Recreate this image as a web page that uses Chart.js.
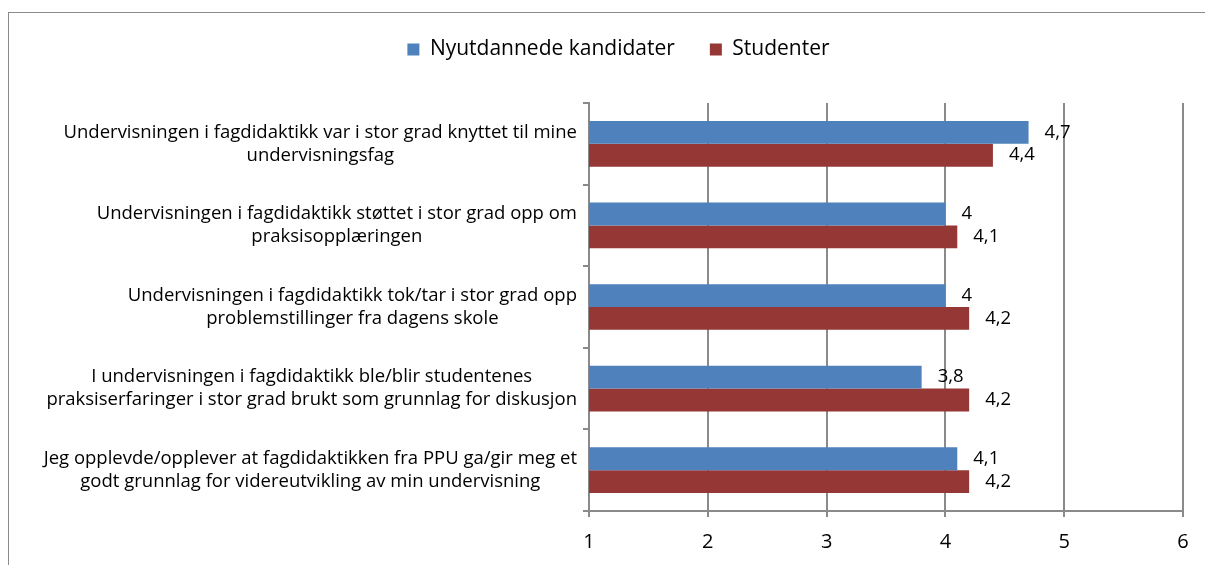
<!DOCTYPE html>
<html lang="no">
<head>
<meta charset="UTF-8">
<title>Fagdidaktikk – nyutdannede og studenter</title>
<script src="https://cdn.jsdelivr.net/npm/chart.js"></script>
<style>
  * { margin: 0; padding: 0; box-sizing: border-box; }
  body { background: #fff; width: 1205px; height: 565px; overflow: hidden; position: relative; }
  .ramme { position: absolute; left: 8px; top: 12px; width: 1240px; height: 600px; border: 1px solid #8a8a8a; }
  canvas { position: absolute; left: 0; top: 0; }
</style>
</head>
<body>
<div class="ramme"></div>
<canvas id="diagram" width="1205" height="565"></canvas>
<script>
const kategorier = [
  ['Undervisningen i fagdidaktikk var i stor grad knyttet til mine', 'undervisningsfag'],
  ['Undervisningen i fagdidaktikk støttet i stor grad opp om', 'praksisopplæringen'],
  ['Undervisningen i fagdidaktikk tok/tar i stor grad opp', 'problemstillinger fra dagens skole'],
  ['I undervisningen i fagdidaktikk ble/blir studentenes', 'praksiserfaringer i stor grad brukt som grunnlag for diskusjon'],
  ['Jeg opplevde/opplever at fagdidaktikken fra PPU ga/gir meg et', 'godt grunnlag for videreutvikling av min undervisning']
];
const serier = ['Nyutdannede kandidater', 'Studenter'];
const nyutdannede = [4.7, 4, 4, 3.8, 4.1];
const studenter = [4.4, 4.1, 4.2, 4.2, 4.2];
const skala = [1, 2, 3, 4, 5, 6];

const FONT = '"Open Sans", sans-serif';
const GRAA = '#8a8a8a';
const VENSTRE = 54;

// kategoritekster: hver etikett høyrejustert som blokk, linjene sentrert
const kategoriTekst = {
  id: 'kategoriTekst',
  afterDraw(chart) {
    const ctx = chart.ctx;
    const y = chart.scales.y;
    ctx.save();
    ctx.font = '18.5px ' + FONT;
    ctx.fillStyle = '#000';
    ctx.textAlign = 'center';
    ctx.textBaseline = 'middle';
    kategorier.forEach((linjer, i) => {
      const bredest = Math.max(...linjer.map(l => ctx.measureText(l).width));
      const midtX = chart.chartArea.left - 12 - bredest / 2;
      const midtY = y.getPixelForTick(i);
      linjer.forEach((l, j) => {
        ctx.fillText(l, midtX, midtY + (j - (linjer.length - 1) / 2) * 23);
      });
    });
    ctx.restore();
  }
};

// verdier til høyre for hver stolpe, med komma som desimaltegn
const verdiTekst = {
  id: 'verdiTekst',
  afterDatasetsDraw(chart) {
    const ctx = chart.ctx;
    ctx.save();
    ctx.font = '18.5px ' + FONT;
    ctx.fillStyle = '#000';
    ctx.textAlign = 'left';
    ctx.textBaseline = 'middle';
    chart.data.datasets.forEach((ds, di) => {
      chart.getDatasetMeta(di).data.forEach((bar, i) => {
        ctx.fillText(String(ds.data[i]).replace('.', ','), bar.x + 16, bar.y);
      });
    });
    ctx.restore();
  }
};

new Chart(document.getElementById('diagram'), {
  type: 'bar',
  data: {
    labels: kategorier,
    datasets: [
      { label: serier[0], data: nyutdannede, backgroundColor: '#4f81bd', barPercentage: 1, categoryPercentage: 0.56 },
      { label: serier[1], data: studenter, backgroundColor: '#953735', barPercentage: 1, categoryPercentage: 0.56 }
    ]
  },
  options: {
    indexAxis: 'y',
    responsive: false,
    animation: false,
    events: [],
    layout: { padding: { top: 4, right: 22, left: VENSTRE, bottom: 0 } },
    plugins: {
      tooltip: { enabled: false },
      legend: {
        position: 'top',
        labels: { boxWidth: 12, boxHeight: 12, padding: 35, color: '#000', font: { family: FONT, size: 21 } }
      },
      // tom tittel brukt som luft mellom forklaring og plottet
      title: {
        display: true, text: ' ', position: 'top', weight: 500,
        font: { size: 1, lineHeight: 1 }, padding: { top: 0, bottom: 32 }
      }
    },
    scales: {
      x: {
        min: skala[0],
        max: skala[skala.length - 1],
        ticks: { stepSize: 1, color: '#000', padding: 13, font: { family: FONT, size: 20 } },
        grid: { color: GRAA, lineWidth: 2, tickLength: 6 },
        border: { color: GRAA, width: 2 },
        afterFit: s => { s.height = 54; }
      },
      y: {
        ticks: { display: false },
        grid: { drawOnChartArea: false, color: GRAA, lineWidth: 2, tickLength: 6, offset: true },
        border: { color: GRAA, width: 2 },
        afterFit: s => { s.width = 589 - VENSTRE; }
      }
    }
  },
  plugins: [kategoriTekst, verdiTekst]
});
</script>
</body>
</html>
